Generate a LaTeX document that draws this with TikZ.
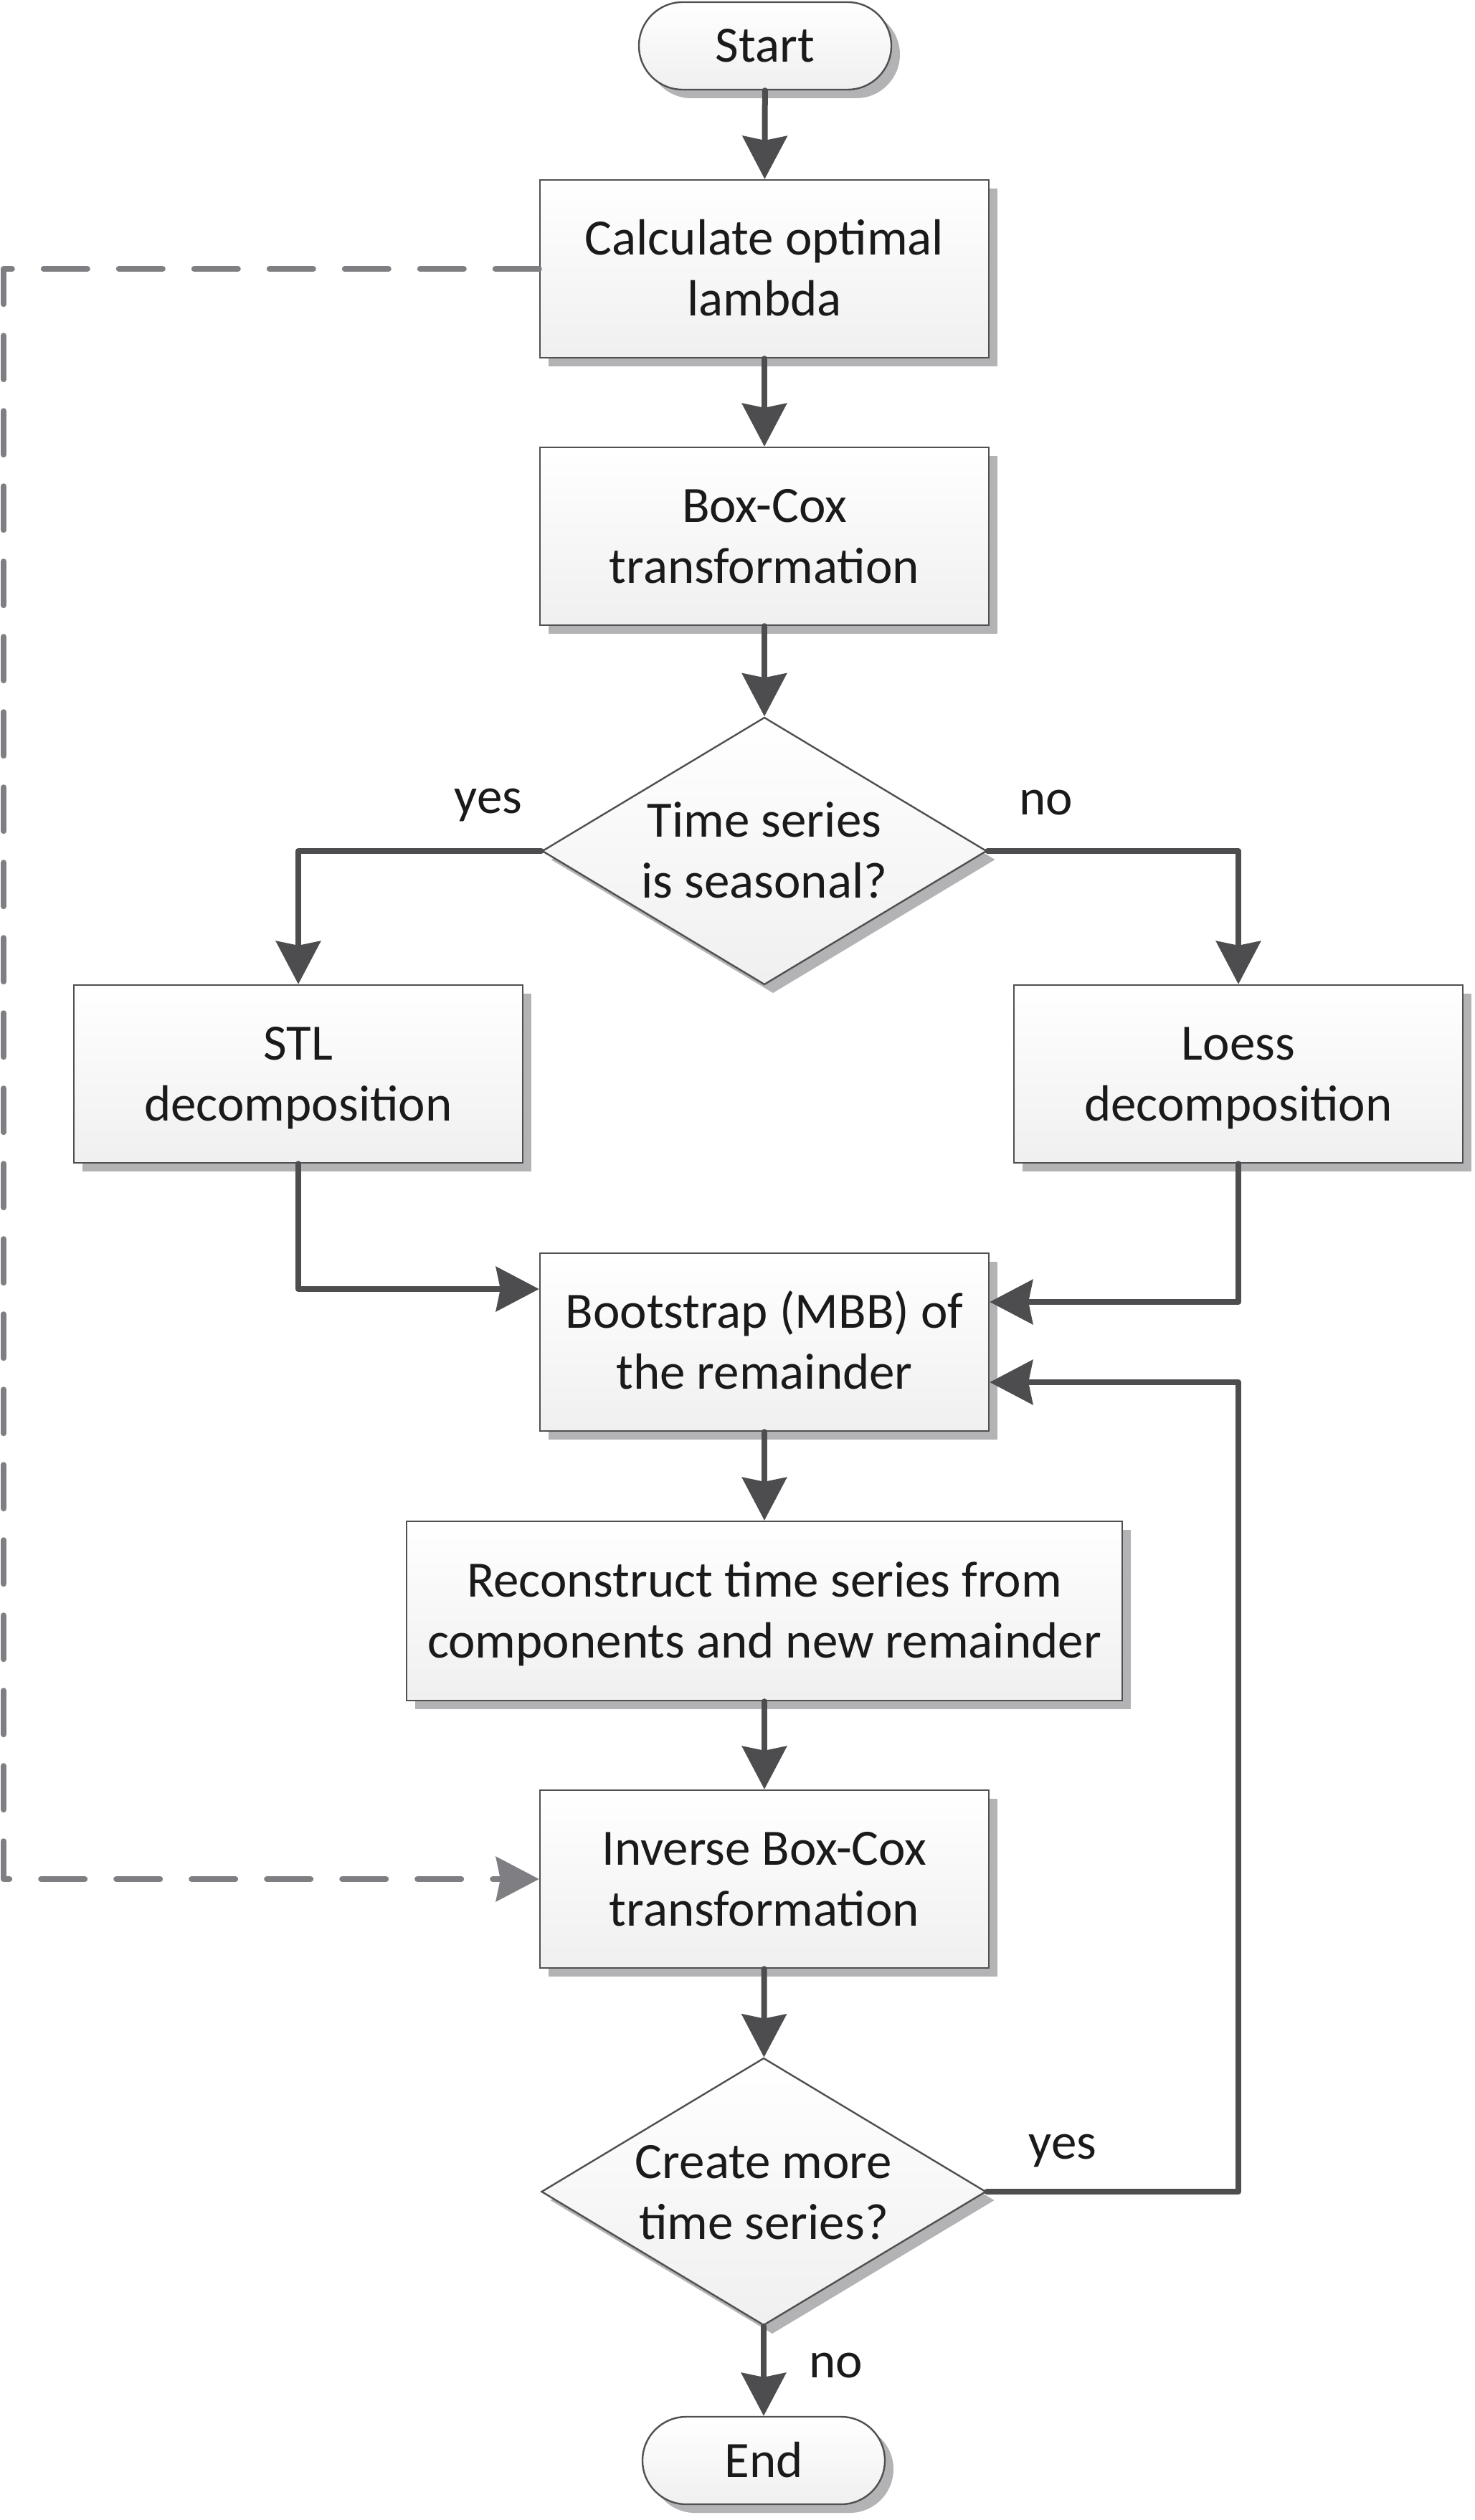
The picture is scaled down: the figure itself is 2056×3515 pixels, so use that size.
\documentclass[tikz,border=0pt]{standalone}
\usepackage{fontspec}
\setmainfont{Carlito}
\usetikzlibrary{arrows.meta,shapes.geometric,shadows,calc}
\definecolor{conncol}{HTML}{4D4D4F}
\definecolor{dashcol}{HTML}{7F7F83}
\definecolor{bord}{HTML}{505050}
\definecolor{shad}{HTML}{B3B3B5}
\definecolor{txt}{HTML}{1A1A1A}
\newcommand{\ms}{\rule[-9.75pt]{0pt}{42.5pt}}
\begin{document}
\begin{tikzpicture}[x=0.5pt,y=-0.5pt,
  txtfont/.style={font=\fontsize{35.5}{42.5}\selectfont},
  base/.style={draw=bord, line width=1.2pt, top color=white, bottom color=black!6,
    drop shadow={shadow xshift=6pt, shadow yshift=-6pt, fill=shad, opacity=1},
    text=txt, txtfont, align=center, inner sep=0pt},
  procbox/.style={base, rectangle, minimum width=313pt, minimum height=124pt},
  term/.style={base, rectangle, rounded corners=30.5pt, minimum width=176pt, minimum height=61pt},
  decis/.style={base, diamond, minimum width=310pt, minimum height=186.5pt},
  conn/.style={draw=conncol, line width=4pt, line cap=round, line join=round,
    -{Stealth[length=30pt,width=31pt,inset=3pt]}},
  dconn/.style={draw=dashcol, line width=4pt, line cap=round, line join=round,
    dash pattern=on 30.5pt off 22pt,
    -{Stealth[length=30pt,width=31pt,inset=3pt]}},
  lbl/.style={text=txt, txtfont, anchor=base, inner sep=0pt},
  dtext/.style={text=txt, txtfont, align=center, inner sep=0pt}]
\useasboundingbox (0,0) rectangle (2056,3515);

% nodes
\node[term] (start) at (1067,64) {\ms Start};
\node[procbox] (calc) at (1066,375) {\ms Calculate optimal\\\ms lambda};
\node[procbox] (boxcox) at (1066,748) {\ms Box-Cox\\\ms transformation};
\node[decis] (d1) at (1066,1187) {};
\node[dtext] (d1t) at (1066,1187) {\ms Time series\\\ms is seasonal?};
\node[procbox] (stl) at (416,1498) {\ms STL\\\ms decomposition};
\node[procbox] (loess) at (1727,1498) {\ms Loess\\\ms decomposition};
\node[procbox] (boot) at (1066,1872) {\ms Bootstrap (MBB) of\\\ms the remainder};
\node[procbox, minimum width=499pt, minimum height=125pt] (recon) at (1066,2247) {\ms Reconstruct time series from\\\ms components and new remainder};
\node[procbox] (inv) at (1066,2621) {\ms Inverse Box-Cox\\\ms transformation};
\node[decis] (d2) at (1065,3057) {};
\node[dtext] (d2t) at (1065,3058) {\ms Create more\\\ms time series?};
\node[term, minimum width=169pt] (end) at (1065,3432) {\ms End};

% labels
\node[lbl] (l1) at (681,1134) {yes};
\node[lbl] (l2) at (1459,1136) {no};
\node[lbl] (l3) at (1482,3011) {yes};
\node[lbl] (l4) at (1166,3316) {no};

% coordinates
\coordinate (dl) at (5,0);
\coordinate (loopc) at (1727,3057);

% connectors
\draw[conn] (start) -- (calc);
\draw[conn] (calc) -- (boxcox);
\draw[conn] (boxcox) -- (d1);
\draw[conn] (d1.west) -| (stl.north);
\draw[conn] (d1.east) -| (loess.north);
\draw[conn] (stl.south) |- ([yshift=37pt]boot.west);
\draw[conn] (loess.south) |- ([yshift=28pt]boot.east);
\draw[conn] (boot) -- (recon);
\draw[conn] (recon) -- (inv);
\draw[conn] (inv) -- (d2);
\draw[conn] (d2.east) -- (loopc) |- ([yshift=-28pt]boot.east);
\draw[conn] (d2.south) -- (end);
\draw[dconn] (calc.west) -- (calc.west -| dl) -- (inv.west -| dl) -- (inv.west);
\end{tikzpicture}
\end{document}
